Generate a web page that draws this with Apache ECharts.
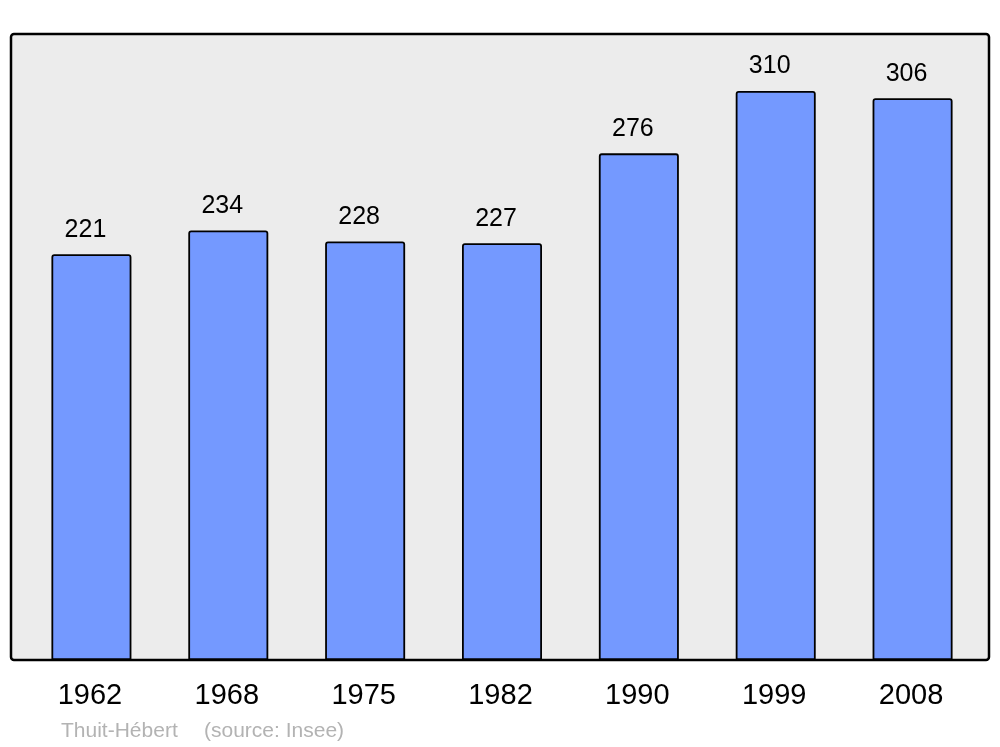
<!DOCTYPE html>
<html>
<head>
<meta charset="utf-8">
<script src="https://cdn.jsdelivr.net/npm/echarts@6/dist/echarts.min.js"></script>
<style>
html,body{margin:0;padding:0;background:#fff;}
#chart{width:1000px;height:747px;}
</style>
</head>
<body>
<div id="chart"></div>
<script>
const categories = ['1962','1968','1975','1982','1990','1999','2008'];
const population = [221,234,228,227,276,310,306];
const placeName = 'Thuit-Hébert';
const sourceText = '(source: Insee)';

const chart = echarts.init(document.getElementById('chart'), null, {renderer:'canvas'});
const FONT = '"Liberation Sans", Arial, sans-serif';
chart.setOption({
  animation:false,
  backgroundColor:'#ffffff',
  grid:{left:23, right:19, top:34, bottom:87},
  graphic:[
    {type:'rect', z:-10, shape:{x:11,y:34,width:978,height:626,r:3},
     style:{fill:'#ececec', stroke:'#000', lineWidth:2.5}},
    {type:'text', left:61, top:721, style:{text:placeName, fill:'#b3b3b3', font:'21px '+FONT}},
    {type:'text', left:204, top:721, style:{text:sourceText, fill:'#b3b3b3', font:'21px '+FONT}}
  ],
  xAxis:{
    type:'category', data:categories,
    axisLine:{show:false}, axisTick:{show:false},
    axisLabel:{color:'#000', fontSize:29, fontFamily:FONT, margin:21, padding:[0,3,0,0]}
  },
  yAxis:{type:'value', min:0, max:341, show:false, splitLine:{show:false}},
  series:[{
    type:'bar', data:population, barWidth:80,
    itemStyle:{color:'#7499ff', borderColor:'#000', borderWidth:1.8, borderRadius:[2,2,0,0]},
    label:{show:true, position:'top', distance:12, offset:[-6,0], color:'#000', fontSize:25, fontFamily:FONT}
  }]
});
</script>
</body>
</html>
